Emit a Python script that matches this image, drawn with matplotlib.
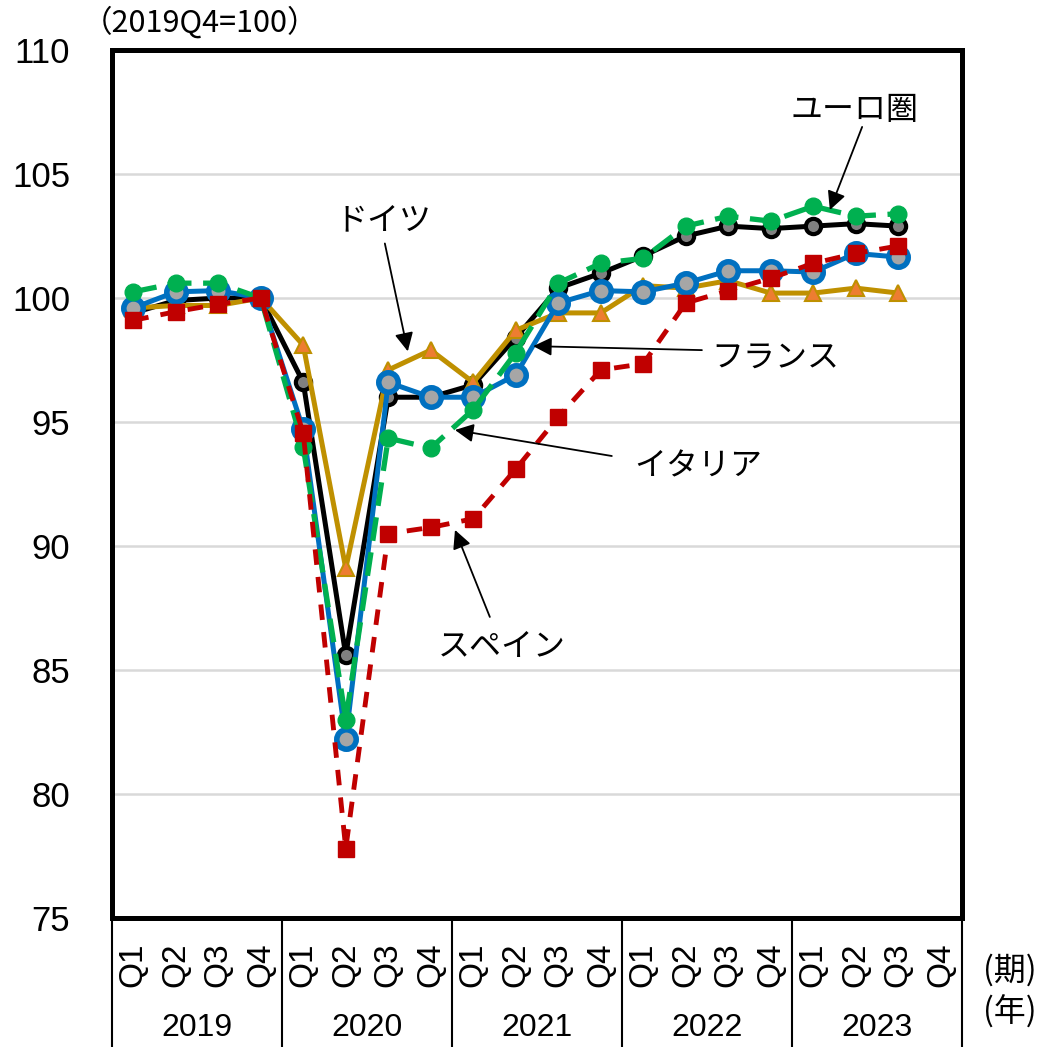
import matplotlib.pyplot as plt

# data (2019Q4 = 100), 2019Q1 .. 2023Q3
years = ['2019', '2020', '2021', '2022', '2023']
quarters = ['Q1', 'Q2', 'Q3', 'Q4']
euro = [99.4, 99.9, 100.0, 100.0, 96.6, 85.6, 96.0, 96.0, 96.5, 98.4,
        100.4, 101.0, 101.7, 102.5, 102.9, 102.8, 102.9, 103.0, 102.9]
germany = [99.6, 99.7, 99.7, 100.0, 98.1, 89.1, 97.1, 97.9, 96.6, 98.7,
           99.4, 99.4, 100.5, 100.4, 100.7, 100.2, 100.2, 100.4, 100.2]
france = [99.6, 100.25, 100.3, 100.0, 94.7, 82.2, 96.6, 96.0, 96.0, 96.9,
          99.8, 100.3, 100.25, 100.6, 101.1, 101.1, 101.05, 101.8, 101.65]
italy = [100.25, 100.6, 100.6, 100.0, 94.0, 83.0, 94.35, 93.95, 95.5, 97.8,
         100.6, 101.4, 101.6, 102.9, 103.3, 103.1, 103.7, 103.3, 103.4]
spain = [99.1, 99.45, 99.75, 100.0, 94.55, 77.8, 90.5, 90.75, 91.1, 93.1,
         95.2, 97.1, 97.35, 99.8, 100.3, 100.8, 101.4, 101.8, 102.1]

plt.rcParams['font.family'] = ['Liberation Sans', 'Noto Sans CJK JP']
jp = ['Noto Sans CJK JP', 'DejaVu Sans']

fig = plt.figure(figsize=(10.39, 10.47), dpi=100)
ax = fig.add_axes([0.1078, 0.1232, 0.8181, 0.829])

x = list(range(len(euro)))

ax.plot(x, euro, color='black', lw=3.6, marker='o', ms=11,
        mfc='#808080', mec='black', mew=3, zorder=3)
ax.plot(x, germany, color='#BF9000', lw=3.6, marker='^', ms=12,
        mfc='#ED7D31', mec='#BF9000', mew=1.5, zorder=4)
ax.plot(x, france, color='#0070C0', lw=3.6, marker='o', ms=14,
        mfc='#A6A6A6', mec='#0070C0', mew=4, zorder=5)
ax.plot(x, italy, color='#00B050', lw=3.8, dashes=(4.5, 2.2), marker='o', ms=12,
        mfc='#00B050', mec='#00B050', zorder=6)
ax.plot(x, spain, color='#C00000', lw=3.5, dashes=(3.2, 2.5), marker='s', ms=11,
        mfc='#C00000', mec='#C00000', zorder=7)

ax.set_xlim(-0.5, 19.5)
ax.set_ylim(75, 110)
ax.set_yticks(range(75, 111, 5))
ax.set_xticks([])
ax.tick_params(axis='y', length=0, pad=30, labelsize=25)
for s in ax.spines.values():
    s.set_linewidth(3.6)
ax.grid(axis='y', color='#d9d9d9', lw=1.8)
ax.set_axisbelow(True)

# category axis
tr = ax.get_xaxis_transform()
for i in range(20):
    ax.text(i, -0.054, quarters[i % 4], transform=tr, rotation=90,
            ha='center', va='center', fontsize=24)
for j, yr in enumerate(years):
    ax.text(4 * j + 1.5, -0.127, yr, transform=tr, ha='center', va='center', fontsize=23)
for b in [-0.5, 3.5, 7.5, 11.5, 15.5, 19.5]:
    ax.plot([b, b], [0, -0.2], transform=tr, color='black', lw=1.5, clip_on=False)

fig.text(200 / 1039, 1 - 22 / 1047, '（2019Q4=100）', family=jp, fontsize=22,
         ha='center', va='center')
fig.text(1010 / 1039, 1 - 970 / 1047, '(期)', family=jp, fontsize=23, ha='center', va='center')
fig.text(1010 / 1039, 1 - 1012 / 1047, '(年)', family=jp, fontsize=23, ha='center', va='center')

# labels with arrows
arrow = dict(arrowstyle='-|>', color='black', lw=1.3, mutation_scale=28,
             shrinkA=0, shrinkB=0)
labels = [
    ('ユーロ圏', (16.98, 107.6), (17.15, 106.9), (16.39, 103.55)),
    ('ドイツ', (5.88, 103.15), (5.92, 102.2), (6.46, 97.85)),
    ('フランス', (15.12, 97.6), (13.38, 97.9), (9.41, 98.06)),
    ('イタリア', (13.29, 93.19), (11.26, 93.63), (7.57, 94.68)),
    ('スペイン', (8.68, 85.97), (8.39, 87.14), (7.57, 90.65)),
]
for name, pos, tail, head in labels:
    ax.text(pos[0], pos[1], name, family=jp, fontsize=23, ha='center', va='center')
    ax.annotate('', xy=head, xytext=tail, arrowprops=arrow, zorder=8)

fig.savefig('out.png', dpi=100)
